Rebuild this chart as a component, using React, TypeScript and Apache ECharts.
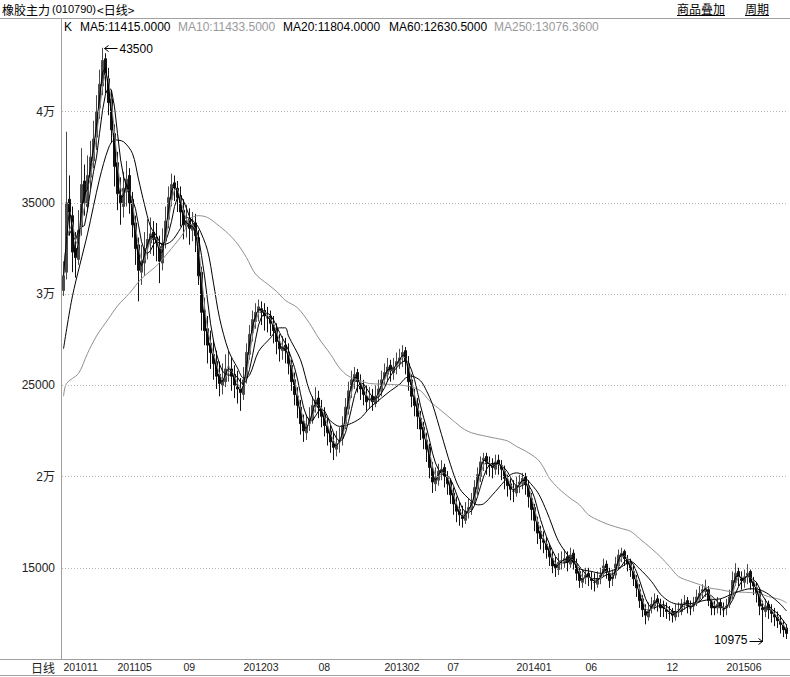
import React, { useEffect, useRef } from "react";
import * as echarts from "echarts";

// weekly-ish candles: [open, close, low, high]
const candles: number[][] = [
  [30200, 31000, 29900, 31800], [31200, 35000, 30800, 38900], [35200, 34500, 33200, 36500], [34300, 32300, 31200, 34800],
  [32500, 32000, 30900, 33400], [31900, 33500, 31600, 34600], [33700, 36000, 33200, 38000], [36200, 35000, 34300, 37100],
  [34800, 36500, 34500, 37600], [36400, 37500, 35800, 38400], [37300, 38500, 36900, 39500], [38600, 40000, 37900, 40900],
  [40200, 41500, 39600, 42300], [41400, 42800, 40900, 43500], [42900, 42000, 41000, 43200], [41800, 40500, 39800, 42400],
  [40700, 39000, 38300, 41200], [38800, 37000, 35900, 39300], [37200, 35500, 34600, 37800], [35400, 35000, 33800, 36400],
  [34800, 35800, 34200, 36700], [35600, 36300, 34800, 37300], [36500, 35000, 34400, 36900], [35200, 33800, 33100, 35600],
  [33900, 32500, 31600, 34300], [32700, 31300, 29600, 33100], [31200, 31800, 30500, 32700], [31700, 32500, 31000, 33400],
  [32600, 33000, 31900, 34100], [32800, 33300, 32200, 34200], [33400, 33000, 32100, 34000], [33100, 32800, 31800, 33900],
  [32600, 31800, 30600, 33200], [31700, 32800, 31300, 33600], [32900, 34000, 32500, 34800], [34100, 35300, 33600, 35900],
  [35200, 36000, 34800, 36600], [36100, 35900, 35100, 36500], [35800, 35300, 34500, 36200], [35400, 34500, 33700, 35900],
  [34600, 33800, 33000, 35200], [33700, 34000, 33100, 34900], [34100, 33600, 32700, 34700], [33500, 33800, 32900, 34500],
  [33900, 33200, 32300, 34400], [33100, 31000, 30500, 33500], [31200, 29000, 28000, 31500], [29100, 28000, 27200, 29800],
  [28100, 27200, 26200, 28800], [27300, 26800, 25900, 28000], [26700, 26200, 25300, 27500], [26300, 25500, 24800, 26900],
  [25600, 25100, 24400, 26300], [25000, 25300, 24500, 26200], [25200, 25900, 24900, 26700], [26000, 26000, 25200, 26900],
  [25900, 25500, 24700, 26500], [25600, 25000, 24300, 26100], [24900, 24800, 24000, 25800], [24800, 24600, 23600, 25400],
  [24500, 25300, 24200, 26000], [25400, 26800, 25100, 27300], [26700, 27800, 26400, 28300], [27900, 28600, 27400, 29100],
  [28500, 29000, 28100, 29500], [29100, 29300, 28500, 29700], [29200, 29000, 28300, 29600], [29100, 28800, 28000, 29500],
  [28700, 28700, 27900, 29300], [28800, 28400, 27700, 29100], [28300, 28000, 27300, 28800], [28100, 27400, 26700, 28400],
  [27300, 27000, 26300, 27800], [26900, 27100, 26400, 27700], [27200, 26900, 26200, 27600], [26800, 26200, 25600, 27300],
  [26100, 25200, 24700, 26400], [25300, 24500, 23900, 25700], [24400, 23900, 23200, 24900], [23800, 22900, 22300, 24200],
  [23000, 22500, 21900, 23400], [22400, 22800, 22000, 23400], [22900, 23200, 22500, 23800], [23100, 23900, 22900, 24400],
  [24000, 24200, 23500, 24900], [24300, 23800, 23200, 24700], [23700, 23300, 22700, 24200], [23400, 22800, 22200, 23800],
  [22700, 22400, 21700, 23200], [22500, 21900, 21300, 22800], [21800, 21600, 20900, 22400], [21500, 21800, 21100, 22500],
  [21900, 22000, 21300, 22700], [22100, 22800, 21700, 23300], [22900, 23800, 22600, 24300], [23700, 24700, 23400, 25200],
  [24800, 25300, 24300, 25800], [25200, 25600, 24800, 26000], [25700, 25200, 24600, 25900], [25100, 24800, 24200, 25600],
  [24900, 24500, 23900, 25300], [24400, 24100, 23600, 25000], [24200, 24300, 23700, 24900], [24400, 24100, 23600, 24800],
  [24000, 24400, 23800, 25000], [24500, 24800, 24100, 25300], [24700, 25300, 24400, 25800], [25400, 25700, 25000, 26200],
  [25600, 26000, 25200, 26500], [26100, 25800, 25200, 26400], [25700, 26000, 25300, 26500], [26100, 26300, 25600, 26800],
  [26200, 26500, 25900, 27000], [26600, 26800, 26000, 27200], [26900, 26300, 25600, 27100], [26200, 25200, 24700, 26600],
  [25300, 24400, 23800, 25600], [24300, 23900, 23300, 24800], [24000, 23300, 22600, 24300], [23200, 22600, 22000, 23600],
  [22700, 22100, 21500, 23000], [22000, 21500, 20800, 22400], [21600, 20500, 19900, 21800], [20400, 19700, 19100, 20800],
  [19600, 19900, 19200, 20500], [19800, 20300, 19500, 20700], [20200, 20400, 19800, 20900], [20500, 20000, 19400, 20700],
  [19900, 19600, 19000, 20300], [19700, 19000, 18500, 19900], [19100, 18500, 17900, 19400], [18400, 18100, 17500, 18900],
  [18200, 17900, 17300, 18600], [17800, 17700, 17200, 18400], [17600, 18100, 17400, 18600], [18200, 18300, 17700, 18800],
  [18200, 18600, 17900, 19100], [18700, 19400, 18400, 19800], [19300, 20100, 19000, 20500], [20000, 20800, 19700, 21100],
  [20900, 21000, 20300, 21300], [21100, 20700, 20100, 21300], [20600, 20600, 20000, 21100], [20700, 20500, 19900, 21000],
  [20400, 20800, 20100, 21200], [20900, 20700, 20100, 21200], [20600, 20400, 19800, 20900], [20300, 19900, 19300, 20600],
  [19800, 19500, 18900, 20100], [19600, 19300, 18700, 19900], [19200, 19200, 18600, 19800], [19100, 19500, 18900, 20000],
  [19600, 19700, 19100, 20100], [19600, 19900, 19300, 20200], [20000, 19600, 19000, 20200], [19500, 18900, 18300, 19800],
  [18800, 18200, 17600, 19100], [18300, 17600, 17000, 18500], [17500, 16900, 16300, 17800], [17000, 16600, 16000, 17300],
  [16500, 16400, 15800, 17000], [16300, 16000, 15500, 16700], [16100, 15600, 15100, 16300], [15500, 15100, 14700, 15900],
  [15200, 15000, 14500, 15600], [14900, 15300, 14600, 15800], [15400, 15400, 14900, 15900], [15300, 15500, 15000, 16000],
  [15600, 15300, 14800, 15900], [15200, 15700, 15000, 16100], [15800, 15300, 14900, 16000], [15200, 14700, 14300, 15500],
  [14800, 14300, 13900, 15000], [14200, 14400, 13900, 14900], [14500, 14600, 14100, 15000], [14700, 14500, 14000, 15000],
  [14400, 14300, 13800, 14800], [14200, 14200, 13700, 14700], [14100, 14400, 13900, 14800], [14500, 14600, 14100, 15000],
  [14700, 15100, 14500, 15500], [15200, 14800, 14400, 15400], [14700, 14300, 13900, 15000], [14400, 14500, 14000, 14900],
  [14600, 15200, 14400, 15600], [15100, 15700, 14900, 16000], [15600, 15800, 15300, 16100], [15900, 15500, 15100, 16000],
  [15400, 15200, 14800, 15700], [15300, 14900, 14500, 15500], [14800, 14400, 14000, 15100], [14300, 13900, 13400, 14600],
  [13800, 13200, 12800, 14100], [13300, 12700, 12300, 13500], [12600, 12400, 11900, 13000], [12300, 12700, 12100, 13100],
  [12800, 13000, 12500, 13400], [12900, 13200, 12700, 13600], [13300, 13100, 12600, 13500], [13000, 12800, 12300, 13300],
  [12900, 12800, 12300, 13200], [12700, 12600, 12200, 13100], [12500, 12500, 12100, 12900], [12600, 12400, 12000, 12800],
  [12300, 12600, 12100, 13000], [12700, 12700, 12300, 13100], [12600, 13000, 12400, 13300], [13100, 13100, 12700, 13500],
  [13200, 12900, 12500, 13400], [12800, 12800, 12400, 13200], [12900, 13000, 12600, 13400], [13100, 13400, 12900, 13800],
  [13300, 13600, 13100, 14000], [13700, 13800, 13300, 14100], [13700, 13900, 13400, 14350], [13800, 13200, 12900, 14000],
  [13100, 12800, 12400, 13300], [12900, 12800, 12400, 13200], [12800, 13000, 12500, 13400], [13100, 12800, 12400, 13300],
  [12700, 12700, 12300, 13100], [12800, 12900, 12400, 13300], [13000, 13400, 12800, 13800], [13500, 14300, 13300, 14800],
  [14200, 14700, 14000, 15250], [14800, 14500, 14000, 15000], [14400, 14300, 13800, 14800], [14200, 14500, 13900, 14900],
  [14600, 14700, 14100, 15200], [14800, 14200, 13800, 14900], [14200, 14000, 13500, 14500], [13900, 13600, 13100, 14200],
  [13700, 12900, 12400, 13900], [12800, 12700, 10975, 13200], [12600, 12900, 12300, 13300], [13000, 12700, 12200, 13200],
  [12600, 12500, 12000, 13000], [12400, 12300, 11800, 12800], [12300, 12100, 11700, 12600], [12000, 11900, 11400, 12400],
  [11800, 11600, 11200, 12100], [11700, 11400, 11100, 11900],
];

// MA60: [candle index, value]
const ma60Points: number[][] = [
  [0, 27000], [3, 29900], [8, 33300], [12, 36300], [15, 38000], [17, 38450], [20, 38350], [23, 37700], [25, 36300],
  [27, 34900], [29, 33700], [31, 33200], [33, 32700], [36, 32900], [39, 33600], [41, 34200], [43, 34050], [45, 33650],
  [48, 32400], [50, 30600], [52, 28700], [55, 26900], [58, 25950], [60, 25400], [62, 25550], [65, 26850], [69, 27600],
  [72, 28150], [74, 28150], [75, 27700], [79, 26400], [82, 24700], [85, 23750], [89, 23050], [92, 22750], [95, 22850],
  [99, 23200], [102, 23750], [106, 24300], [109, 24700], [112, 25050], [114, 25400], [116, 25500], [119, 25250],
  [121, 24700], [123, 23950], [126, 22300], [129, 20650], [132, 19350], [136, 18650], [138, 18450], [140, 18500],
  [143, 19000], [147, 19750], [149, 20100], [151, 20200], [153, 20100], [155, 19750], [158, 19150], [160, 18500],
  [162, 17700], [165, 16450], [169, 15500], [172, 14950], [176, 14800], [179, 14700], [182, 14800], [186, 15050],
  [189, 15350], [192, 14950], [196, 14250], [199, 13550], [202, 13150], [205, 13000], [209, 13030], [212, 13150],
  [215, 13250], [219, 13300], [222, 13500], [225, 13700], [229, 13850], [232, 13800], [235, 13550], [239, 13000],
  [241, 12630],
];

// MA250: [candle index, value]
const ma250Points: number[][] = [
  [0, 24400], [1, 25100], [5, 25650], [8, 26750], [11, 27700], [15, 28650], [18, 29350], [22, 30050], [26, 30850],
  [31, 31550], [36, 32500], [40, 33350], [42, 34100], [45, 34300], [48, 34200], [51, 33850], [55, 33300], [58, 32750],
  [61, 32000], [64, 31100], [68, 30550], [71, 30150], [74, 29650], [78, 29250], [82, 28400], [85, 27600], [89, 26700],
  [92, 25950], [95, 25500], [99, 25250], [102, 25100], [109, 25050], [115, 24950], [119, 24700], [122, 24150],
  [126, 23600], [130, 23050], [133, 22650], [136, 22400], [141, 22200], [144, 22100], [148, 21950], [151, 21650],
  [154, 21400], [158, 20950], [160, 20500], [162, 19900], [165, 19350], [169, 18800], [172, 18450], [175, 17900],
  [179, 17550], [182, 17350], [186, 17150], [189, 17000], [192, 16600], [196, 16050], [199, 15600], [202, 15070],
  [205, 14520], [209, 14250], [212, 14080], [215, 13900], [219, 13800], [222, 13700], [229, 13640], [232, 13580],
  [235, 13420], [239, 13250], [241, 13080],
];

const gridValues = [15000, 20000, 25000, 30000, 35000, 40000];
const tickIndex = [0, 18, 40, 60, 85, 107, 128, 151, 174, 201, 221];
const tickLabels = ["201011", "201105", "09", "201203", "08", "201302", "07", "201401", "06", "12", "201506"];

const headerItems = [
  { text: "K", color: "#000000", x: 64 },
  { text: "MA5:11415.0000", color: "#000000", x: 80 },
  { text: "MA10:11433.5000", color: "#9a9a9a", x: 178 },
  { text: "MA20:11804.0000", color: "#000000", x: 283 },
  { text: "MA60:12630.5000", color: "#000000", x: 389 },
  { text: "MA250:13076.3600", color: "#9a9a9a", x: 494 },
];

const LAT = "'Liberation Sans', Arial, 'Noto Sans CJK SC', sans-serif";
const CJK = "'Noto Sans CJK SC', sans-serif";

function movingAverage(win: number): number[] {
  return candles.map((_, i) => {
    const s = Math.max(0, i - win + 1);
    let sum = 0;
    for (let k = s; k <= i; k++) sum += candles[k][1];
    return Math.round(sum / (i - s + 1));
  });
}

export default function App() {
  const ref = useRef<HTMLDivElement>(null);

  useEffect(() => {
    if (!ref.current) return;
    const chart = echarts.init(ref.current, undefined, { renderer: "svg" });
    const categories = candles.map((_, i) => String(i));
    const ma5 = movingAverage(2);
    const ma10 = movingAverage(3);
    const ma20 = movingAverage(5);

    chart.setOption({
      animation: false,
      backgroundColor: "#ffffff",
      grid: { left: 62, right: 2, top: 35, height: 624 },
      xAxis: {
        type: "category",
        data: categories,
        boundaryGap: true,
        axisLine: { show: false },
        axisTick: { show: false },
        splitLine: { show: false },
        axisLabel: {
          interval: (index: number) => tickIndex.indexOf(index) >= 0,
          formatter: (_v: string, index: number) => {
            const k = tickIndex.indexOf(index);
            return k >= 0 ? tickLabels[k] : "";
          },
          align: "left",
          margin: 3,
          color: "#222222",
          fontSize: 10.5,
          fontFamily: LAT,
        },
      },
      yAxis: {
        type: "value",
        min: 10000,
        max: 44200,
        interval: 5000,
        axisLine: { show: false },
        axisTick: { show: false },
        splitLine: { show: false },
        axisLabel: {
          margin: 7,
          color: "#222222",
          fontSize: 12,
          fontFamily: LAT,
          formatter: (v: number) => {
            if (v % 5000 !== 0 || v <= 10000) return "";
            return v % 10000 === 0 ? v / 10000 + "万" : String(v);
          },
        },
      },
      series: [
        {
          type: "line",
          data: [],
          silent: true,
          z: 1,
          markLine: {
            silent: true,
            symbol: ["none", "none"],
            label: { show: false },
            lineStyle: { color: "#b8b8b8", type: [1, 2], width: 1 },
            data: gridValues.map((v) => ({ yAxis: v })),
          },
        },
        {
          type: "candlestick",
          data: candles,
          barWidth: 1.6,
          silent: true,
          z: 3,
          itemStyle: {
            color: "#4a4a4a",
            color0: "#111111",
            borderColor: "#4a4a4a",
            borderColor0: "#111111",
            borderWidth: 1,
          },
        },
        { type: "line", data: ma250Points, smooth: 0.3, symbol: "none", silent: true, z: 4, lineStyle: { color: "#8f8f8f", width: 1 } },
        { type: "line", data: ma60Points, smooth: 0.3, symbol: "none", silent: true, z: 4, lineStyle: { color: "#000000", width: 1 } },
        { type: "line", data: ma20, symbol: "none", silent: true, z: 4, lineStyle: { color: "#000000", width: 1 } },
        { type: "line", data: ma10, symbol: "none", silent: true, z: 4, lineStyle: { color: "#8a8a8a", width: 1 } },
        { type: "line", data: ma5, symbol: "none", silent: true, z: 4, lineStyle: { color: "#000000", width: 1 } },
      ],
    });

    let hiIdx = 0;
    let loIdx = 0;
    candles.forEach((c, i) => {
      if (c[3] > candles[hiIdx][3]) hiIdx = i;
      if (c[2] < candles[loIdx][2]) loIdx = i;
    });
    const hi = candles[hiIdx][3];
    const lo = candles[loIdx][2];
    const hp = chart.convertToPixel({ gridIndex: 0 }, [hiIdx, hi]) as number[];
    const lp = chart.convertToPixel({ gridIndex: 0 }, [loIdx, lo]) as number[];
    const hx = Math.round(hp[0]) + 0.5;
    const hy = Math.round(hp[1]) + 0.5;
    const lx = Math.round(lp[0]) + 0.5;
    const ly = Math.round(lp[1]) + 0.5;

    const sep = { stroke: "#a0a0a0", lineWidth: 1 };
    const graphics: any[] = [
      { type: "line", silent: true, shape: { x1: 0, y1: 18.5, x2: 790, y2: 18.5 }, style: sep },
      { type: "line", silent: true, shape: { x1: 61.5, y1: 18.5, x2: 61.5, y2: 659.5 }, style: sep },
      { type: "line", silent: true, shape: { x1: 0, y1: 659.5, x2: 790, y2: 659.5 }, style: sep },
      { type: "line", silent: true, shape: { x1: 0, y1: 675.5, x2: 790, y2: 675.5 }, style: sep },
      { type: "text", silent: true, x: 2, y: 9, style: { text: "橡胶主力", fill: "#000", fontSize: 12, fontFamily: CJK, verticalAlign: "middle" } },
      { type: "text", silent: true, x: 52, y: 9, style: { text: "(010790)", fill: "#000", fontSize: 11, fontFamily: LAT, verticalAlign: "middle" } },
      { type: "text", silent: true, x: 97, y: 9, style: { text: "<日线>", fill: "#000", fontSize: 12, fontFamily: CJK, verticalAlign: "middle" } },
      { type: "text", silent: true, x: 677, y: 8, style: { text: "商品叠加", fill: "#000", fontSize: 12, fontFamily: CJK, verticalAlign: "middle" } },
      { type: "line", silent: true, shape: { x1: 677, y1: 15.5, x2: 725, y2: 15.5 }, style: { stroke: "#000", lineWidth: 1 } },
      { type: "text", silent: true, x: 745, y: 8, style: { text: "周期", fill: "#000", fontSize: 12, fontFamily: CJK, verticalAlign: "middle" } },
      { type: "line", silent: true, shape: { x1: 745, y1: 15.5, x2: 769, y2: 15.5 }, style: { stroke: "#000", lineWidth: 1 } },
      { type: "text", silent: true, x: 55, y: 667, style: { text: "日线", fill: "#222", fontSize: 12, fontFamily: CJK, align: "right", verticalAlign: "middle" } },
      ...headerItems.map((h) => ({
        type: "text",
        silent: true,
        x: h.x,
        y: 27,
        style: { text: h.text, fill: h.color, fontSize: 12, fontFamily: LAT, verticalAlign: "middle" },
      })),
      // max marker
      { type: "line", silent: true, shape: { x1: hx + 1, y1: hy, x2: hx + 14, y2: hy }, style: { stroke: "#000", lineWidth: 1 }, z: 10 },
      { type: "polyline", silent: true, shape: { points: [[hx + 5, hy - 3], [hx + 1, hy], [hx + 5, hy + 3]] }, style: { stroke: "#000", fill: null, lineWidth: 1 }, z: 10 },
      { type: "text", silent: true, x: hx + 16, y: hy, z: 10, style: { text: String(hi), fill: "#000", fontSize: 12, fontFamily: LAT, verticalAlign: "middle" } },
      // min marker
      { type: "line", silent: true, shape: { x1: lx - 14, y1: ly, x2: lx - 1, y2: ly }, style: { stroke: "#000", lineWidth: 1 }, z: 10 },
      { type: "polyline", silent: true, shape: { points: [[lx - 5, ly - 3], [lx - 1, ly], [lx - 5, ly + 3]] }, style: { stroke: "#000", fill: null, lineWidth: 1 }, z: 10 },
      { type: "text", silent: true, x: lx - 16, y: ly - 2, z: 10, style: { text: String(lo), fill: "#000", fontSize: 12, fontFamily: LAT, align: "right", verticalAlign: "middle" } },
    ];
    chart.setOption({ graphic: graphics });

    return () => chart.dispose();
  }, []);

  return (
    <div
      ref={ref}
      style={{ position: "absolute", left: 0, top: 0, width: 790, height: 677, background: "#ffffff" }}
    />
  );
}
